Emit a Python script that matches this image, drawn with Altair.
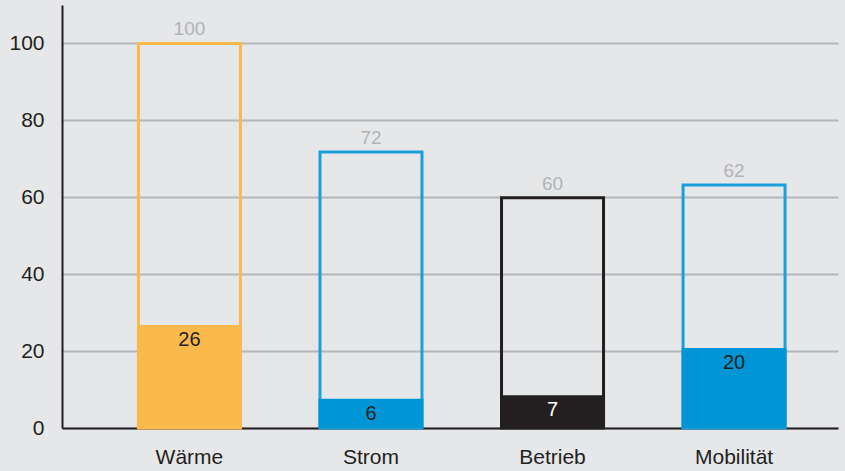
import altair as alt
import pandas as pd

FONT = "Liberation Sans"

categories = ["Wärme", "Strom", "Betrieb", "Mobilität"]
totals = [100, 71.8, 59.9, 63.2]
total_labels = ["100", "72", "60", "62"]
shares = [26.8, 7.6, 8.5, 20.8]
share_labels = ["26", "6", "7", "20"]
colors = ["#fbb84b", "#0096d6", "#231f20", "#0096d6"]
outline_colors = ["#fbb84b", "#1a9fdd", "#231f20", "#1a9fdd"]
share_label_colors = ["#231f20", "#231f20", "#ffffff", "#231f20"]

df = pd.DataFrame({
    "cat": categories,
    "total": totals,
    "total_label": total_labels,
    "share": shares,
    "share_label": share_labels,
    "lab_col": share_label_colors,
})

xscale = alt.Scale(domain=categories, paddingInner=0.4215, paddingOuter=0.348, align=0.593)
x = alt.X(
    "cat:N", sort=categories, scale=xscale,
    axis=alt.Axis(title=None, labelAngle=0, ticks=False, domainColor="#231f20",
                  domainWidth=2, labelFontSize=21, labelColor="#231f20",
                  labelPadding=18, labelFont=FONT, grid=False),
)
yscale = alt.Scale(domain=[0, 110], nice=False)
yaxis = alt.Axis(title=None, values=[0, 20, 40, 60, 80, 100], ticks=False,
                 domainColor="#231f20", domainWidth=2, gridColor="#b4b6b9",
                 gridWidth=2, labelFontSize=21, labelColor="#231f20",
                 labelPadding=18, labelFont=FONT)

base = alt.Chart(df)

outline = base.mark_bar(fillOpacity=0, strokeWidth=3, size=102).encode(
    x=x,
    y=alt.Y("total:Q", scale=yscale, axis=yaxis),
    stroke=alt.Stroke("cat:N", scale=alt.Scale(domain=categories, range=outline_colors), legend=None),
)

filled = base.mark_bar(size=105).encode(
    x=x,
    y=alt.Y("share:Q", scale=yscale),
    color=alt.Color("cat:N", scale=alt.Scale(domain=categories, range=colors), legend=None),
)

total_text = base.mark_text(dy=-14, baseline="middle", fontSize=19, color="#b1b3b6", font=FONT).encode(
    x=x,
    y=alt.Y("total:Q", scale=yscale),
    text="total_label:N",
)

share_text = base.mark_text(dy=15, baseline="middle", fontSize=20, font=FONT).encode(
    x=x,
    y=alt.Y("share:Q", scale=yscale),
    text="share_label:N",
    color=alt.Color("lab_col:N", scale=None),
)

chart = alt.layer(outline, filled, total_text, share_text).properties(
    width=776, height=423,
    autosize=alt.AutoSizeParams(type="none"),
    padding={"left": 62, "top": 5, "right": 7, "bottom": 43},
    background="#e6e7e9",
).configure_view(stroke=None)

chart.save("out.html", embed_options={"renderer": "svg", "actions": False})
